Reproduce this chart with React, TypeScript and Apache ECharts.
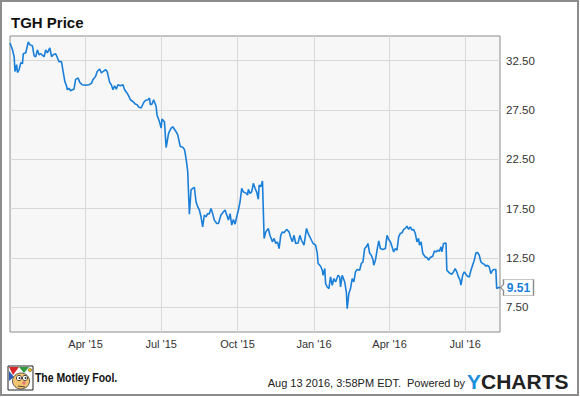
import React, { useEffect, useRef } from 'react';
import * as echarts from 'echarts';

const FONT = '"Liberation Sans", Arial, Helvetica, sans-serif';

const chartTitle = 'TGH Price';
const xTickDates = ['2015-04-01', '2015-07-01', '2015-10-01', '2016-01-01', '2016-04-01', '2016-07-01'];
const yTickValues = [7.5, 12.5, 17.5, 22.5, 27.5, 32.5];
const monthNames = ['Jan', 'Feb', 'Mar', 'Apr', 'May', 'Jun', 'Jul', 'Aug', 'Sep', 'Oct', 'Nov', 'Dec'];

const priceDates = [
  '2014-12-31', '2015-01-03', '2015-01-05', '2015-01-06', '2015-01-08', '2015-01-09', '2015-01-11', '2015-01-13', '2015-01-15', '2015-01-16',
  '2015-01-19', '2015-01-22', '2015-01-24', '2015-01-27', '2015-01-29', '2015-01-31', '2015-02-02', '2015-02-04', '2015-02-06', '2015-02-10',
  '2015-02-12', '2015-02-14', '2015-02-17', '2015-02-19', '2015-02-21', '2015-02-24', '2015-02-26', '2015-02-28', '2015-03-03', '2015-03-05',
  '2015-03-07', '2015-03-09', '2015-03-10', '2015-03-12', '2015-03-14', '2015-03-16', '2015-03-18', '2015-03-20', '2015-03-23', '2015-03-25',
  '2015-03-28', '2015-04-01', '2015-04-05', '2015-04-08', '2015-04-10', '2015-04-13', '2015-04-15', '2015-04-18', '2015-04-20', '2015-04-22',
  '2015-04-25', '2015-04-27', '2015-04-30', '2015-05-02', '2015-05-04', '2015-05-06', '2015-05-08', '2015-05-10', '2015-05-13', '2015-05-16',
  '2015-05-18', '2015-05-21', '2015-05-23', '2015-05-25', '2015-05-28', '2015-05-31', '2015-06-02', '2015-06-04', '2015-06-07', '2015-06-10',
  '2015-06-12', '2015-06-15', '2015-06-17', '2015-06-18', '2015-06-20', '2015-06-22', '2015-06-25', '2015-06-26', '2015-06-29', '2015-07-01',
  '2015-07-02', '2015-07-05', '2015-07-07', '2015-07-10', '2015-07-13', '2015-07-15', '2015-07-19', '2015-07-21', '2015-07-24', '2015-07-27',
  '2015-07-29', '2015-07-31', '2015-08-02', '2015-08-03', '2015-08-04', '2015-08-06', '2015-08-08', '2015-08-10', '2015-08-12', '2015-08-14',
  '2015-08-16', '2015-08-18', '2015-08-20', '2015-08-22', '2015-08-24', '2015-08-26', '2015-08-28', '2015-08-30', '2015-09-01', '2015-09-03',
  '2015-09-06', '2015-09-08', '2015-09-11', '2015-09-14', '2015-09-16', '2015-09-18', '2015-09-20', '2015-09-22', '2015-09-24', '2015-09-26',
  '2015-09-28', '2015-09-30', '2015-10-02', '2015-10-04', '2015-10-06', '2015-10-08', '2015-10-11', '2015-10-13', '2015-10-14', '2015-10-16',
  '2015-10-18', '2015-10-20', '2015-10-22', '2015-10-24', '2015-10-26', '2015-10-27', '2015-10-29', '2015-10-31', '2015-11-02', '2015-11-04',
  '2015-11-07', '2015-11-09', '2015-11-12', '2015-11-14', '2015-11-16', '2015-11-18', '2015-11-20', '2015-11-22', '2015-11-24', '2015-11-26',
  '2015-11-29', '2015-12-02', '2015-12-04', '2015-12-06', '2015-12-08', '2015-12-10', '2015-12-13', '2015-12-15', '2015-12-17', '2015-12-20',
  '2015-12-23', '2015-12-25', '2015-12-29', '2015-12-31', '2016-01-03', '2016-01-05', '2016-01-06', '2016-01-09', '2016-01-11', '2016-01-12',
  '2016-01-14', '2016-01-15', '2016-01-17', '2016-01-19', '2016-01-21', '2016-01-23', '2016-01-25', '2016-01-27', '2016-01-30', '2016-02-01',
  '2016-02-02', '2016-02-04', '2016-02-07', '2016-02-09', '2016-02-10', '2016-02-12', '2016-02-14', '2016-02-16', '2016-02-18', '2016-02-20',
  '2016-02-22', '2016-02-25', '2016-02-27', '2016-02-29', '2016-03-02', '2016-03-04', '2016-03-06', '2016-03-08', '2016-03-10', '2016-03-12',
  '2016-03-13', '2016-03-15', '2016-03-17', '2016-03-19', '2016-03-21', '2016-03-24', '2016-03-27', '2016-03-29', '2016-03-31', '2016-04-02',
  '2016-04-04', '2016-04-06', '2016-04-08', '2016-04-10', '2016-04-12', '2016-04-14', '2016-04-16', '2016-04-18', '2016-04-20', '2016-04-22',
  '2016-04-24', '2016-04-26', '2016-04-28', '2016-04-30', '2016-05-02', '2016-05-04', '2016-05-06', '2016-05-07', '2016-05-09', '2016-05-11',
  '2016-05-14', '2016-05-16', '2016-05-18', '2016-05-20', '2016-05-23', '2016-05-25', '2016-05-27', '2016-05-29', '2016-05-31', '2016-06-02',
  '2016-06-03', '2016-06-05', '2016-06-08', '2016-06-09', '2016-06-12', '2016-06-15', '2016-06-17', '2016-06-19', '2016-06-21', '2016-06-23',
  '2016-06-25', '2016-06-26', '2016-06-28', '2016-06-30', '2016-07-02', '2016-07-04', '2016-07-06', '2016-07-08', '2016-07-10', '2016-07-12',
  '2016-07-14', '2016-07-16', '2016-07-18', '2016-07-20', '2016-07-22', '2016-07-24', '2016-07-26', '2016-07-28', '2016-07-30', '2016-08-01',
  '2016-08-03', '2016-08-05', '2016-08-07', '2016-08-08', '2016-08-10', '2016-08-12',
];

const priceValues = [
  34.3, 33.6, 32.9, 31.4, 32.1, 31.3, 31.6, 32.3, 32.2, 33.2,
  33.3, 34.4, 34.1, 34.0, 33.0, 32.9, 33.6, 33.1, 33.2, 32.9,
  33.6, 33.3, 33.8, 32.9, 33.1, 33.2, 32.8, 32.4, 32.4, 31.4,
  30.4, 29.96, 29.55, 29.7, 29.45, 29.55, 29.6, 30.6, 30.74, 30.3,
  30.06, 30.0, 30.06, 30.2, 30.6, 30.9, 31.4, 31.66, 31.25, 31.4,
  31.6, 31.4, 30.3, 30.06, 29.55, 29.96, 29.6, 30.06, 29.96, 30.06,
  29.55, 29.2, 28.9, 28.54, 28.36, 28.1, 28.03, 27.8, 27.7, 28.26,
  28.47, 28.54, 28.7, 28.03, 28.1, 28.54, 27.85, 27.0, 26.3, 25.66,
  26.58, 26.3, 23.7, 25.15, 25.66, 25.8, 25.3, 24.98, 23.8, 23.73,
  23.5, 22.6, 21.25, 19.05, 16.95, 19.4, 19.56, 19.66, 18.2, 17.7,
  17.36, 16.68, 15.66, 16.85, 16.68, 17.0, 16.95, 17.53, 17.0, 16.34,
  16.0, 16.0, 16.85, 17.18, 17.36, 16.85, 16.34, 17.0, 15.83, 16.41,
  15.93, 16.68, 17.36, 18.2, 19.56, 19.2, 19.1, 18.88, 19.46, 19.05,
  19.2, 20.07, 19.56, 19.2, 18.45, 19.9, 19.73, 20.3, 14.48, 15.15,
  15.5, 14.8, 14.14, 14.48, 13.97, 14.14, 13.46, 14.8, 15.15, 15.05,
  15.4, 15.15, 14.58, 14.14, 14.8, 13.97, 14.03, 14.8, 14.3, 13.8,
  15.5, 14.99, 14.3, 13.97, 13.8, 12.96, 11.94, 11.67, 11.26, 10.75,
  11.43, 9.91, 9.56, 9.4, 10.58, 9.74, 10.42, 10.07, 10.75, 10.58,
  9.56, 10.75, 10.07, 9.05, 7.37, 8.89, 9.4, 10.42, 10.07, 11.09,
  11.33, 11.26, 11.94, 12.1, 13.46, 13.63, 13.97, 13.0, 12.78, 12.35,
  11.77, 12.28, 13.29, 14.24, 13.46, 13.36, 13.46, 14.8, 14.38, 14.14,
  13.63, 13.12, 13.46, 13.29, 14.64, 14.99, 15.05, 15.4, 15.5, 15.73,
  15.4, 15.66, 15.33, 15.4, 14.99, 14.14, 14.48, 13.8, 14.14, 12.96,
  12.61, 12.55, 12.28, 12.55, 12.68, 13.22, 13.12, 13.29, 13.19, 13.63,
  13.12, 13.97, 14.03, 11.26, 10.99, 10.85, 11.09, 11.43, 11.09, 10.58,
  10.24, 9.74, 10.75, 11.09, 10.85, 10.65, 10.58, 11.26, 11.77, 12.28,
  13.02, 13.06, 12.78, 12.1, 11.94, 11.87, 11.67, 11.77, 11.6, 10.92,
  11.26, 11.33, 11.33, 9.4, 9.5, 9.51,
];

const axisStart = '2014-12-31';
const axisEnd = '2016-08-12';

function parseDay(s: string): number {
  const [y, m, d] = s.split('-').map(Number);
  return new Date(y, m - 1, d).getTime();
}

function textStyle(text: string, size: number, align: string, weight: string = 'normal', fill: string = '#222') {
  return {
    text,
    fontSize: size,
    fontWeight: weight,
    fontFamily: FONT,
    fill,
    align,
    verticalAlign: 'middle',
    textAlign: align,
    textVerticalAlign: 'middle',
  };
}

export default function App() {
  const ref = useRef<HTMLDivElement>(null);

  useEffect(() => {
    if (!ref.current) return;
    const chart = echarts.init(ref.current, null, { renderer: 'svg' });
    const seriesData = priceDates.map((d, i) => [parseDay(d), priceValues[i]]);
    const last = seriesData[seriesData.length - 1];
    const xTicks = xTickDates.map(parseDay);

    const option: any = {
      animation: false,
      backgroundColor: '#ffffff',
      grid: {
        left: 10,
        top: 36,
        width: 490,
        height: 296,
        show: true,
        backgroundColor: '#f7f7f7',
        borderColor: '#8c8c8c',
        borderWidth: 1,
      },
      xAxis: {
        type: 'value',
        min: parseDay(axisStart),
        max: parseDay(axisEnd),
        axisLine: { show: false },
        axisTick: { show: false, customValues: xTicks },
        axisLabel: {
          customValues: xTicks,
          formatter: (v: number) => {
            const dt = new Date(v);
            return monthNames[dt.getMonth()] + " '" + String(dt.getFullYear()).slice(2);
          },
          margin: 6,
          color: '#333',
          fontSize: 11,
          fontFamily: FONT,
        },
        splitLine: { show: true, customValues: xTicks, lineStyle: { color: '#d8d8d8', width: 1 } },
      },
      yAxis: {
        type: 'value',
        position: 'right',
        min: 5,
        max: 35,
        axisLine: { show: false },
        axisTick: { show: false, customValues: yTickValues },
        axisLabel: {
          customValues: yTickValues,
          formatter: (v: number) => v.toFixed(2),
          margin: 6,
          color: '#333',
          fontSize: 11.5,
          fontFamily: FONT,
        },
        splitLine: { show: true, customValues: yTickValues, lineStyle: { color: '#d8d8d8', width: 1 } },
      },
      series: [
        {
          type: 'line',
          data: seriesData,
          showSymbol: false,
          symbol: 'none',
          lineStyle: { color: '#1a7fd8', width: 1.6 },
          itemStyle: { color: '#1a7fd8' },
          clip: false,
          markPoint: {
            silent: true,
            symbol: 'path://M0,8L3,5L3,0L33,0L33,16L3,16L3,11Z',
            symbolSize: [33, 16],
            symbolOffset: [17, 0],
            symbolKeepAspect: false,
            itemStyle: { color: '#ffffff', borderColor: '#8c8c8c', borderWidth: 1 },
            label: {
              show: true,
              position: 'inside',
              offset: [1.5, 0],
              formatter: () => (last[1] as number).toFixed(2),
              color: '#1a7fd8',
              fontWeight: 'bold',
              fontSize: 12,
              fontFamily: FONT,
            },
            data: [{ coord: last }],
          },
        },
      ],
      graphic: [
        {
          type: 'rect',
          shape: { x: 1, y: 1, width: 577, height: 394 },
          style: { fill: 'none', stroke: '#8c8c8c', lineWidth: 2 },
          silent: true,
        },
        { type: 'text', x: 11, y: 22, style: textStyle(chartTitle, 15, 'left', 'bold', '#111') },
        {
          type: 'group',
          children: [
            { type: 'rect', shape: { x: 8, y: 366, width: 25, height: 24 }, style: { fill: '#fff', stroke: '#222', lineWidth: 1 } },
            { type: 'polygon', shape: { points: [[9, 367], [19, 367], [13, 375]] }, style: { fill: '#d9262c' } },
            { type: 'polygon', shape: { points: [[19, 367], [29, 367], [24, 373]] }, style: { fill: '#2e9a3c' } },
            { type: 'polygon', shape: { points: [[9, 371], [14, 377], [9, 381]] }, style: { fill: '#2b5cb8' } },
            { type: 'circle', shape: { cx: 30, cy: 370, r: 1.8 }, style: { fill: '#f2c300', stroke: '#333', lineWidth: 0.5 } },
            { type: 'ellipse', shape: { cx: 21, cy: 381, rx: 8.5, ry: 8 }, style: { fill: '#f4c56e', stroke: '#333', lineWidth: 0.8 } },
            { type: 'circle', shape: { cx: 19, cy: 378, r: 2.6 }, style: { fill: '#fff', stroke: '#222', lineWidth: 0.8 } },
            { type: 'circle', shape: { cx: 25, cy: 378, r: 2.6 }, style: { fill: '#fff', stroke: '#222', lineWidth: 0.8 } },
            { type: 'circle', shape: { cx: 19.5, cy: 378, r: 0.9 }, style: { fill: '#222' } },
            { type: 'circle', shape: { cx: 25.5, cy: 378, r: 0.9 }, style: { fill: '#222' } },
            { type: 'circle', shape: { cx: 24, cy: 383, r: 1.8 }, style: { fill: '#e0787a' } },
            { type: 'line', shape: { x1: 18, y1: 386, x2: 25, y2: 387 }, style: { stroke: '#222', lineWidth: 0.8 } },
          ],
        },
        { type: 'text', x: 35, y: 378, scaleX: 0.87, style: textStyle('The Motley Fool.', 12, 'left', 'bold', '#111') },
        { type: 'text', x: 401, y: 383, style: textStyle('Aug 13 2016, 3:58PM EDT.', 11, 'right') },
        { type: 'text', x: 407, y: 383, style: textStyle('Powered by', 11, 'left') },
        {
          type: 'text',
          x: 467,
          y: 381,
          style: {
            text: '{y|Y}{c|CHARTS}',
            align: 'left',
            verticalAlign: 'middle',
            textAlign: 'left',
            textVerticalAlign: 'middle',
            rich: {
              y: { fontSize: 21, fontWeight: 'bold', fontFamily: FONT, fill: '#1e8fd9', color: '#1e8fd9' },
              c: { fontSize: 21, fontWeight: 'bold', fontFamily: FONT, fill: '#222', color: '#222' },
            },
          },
        },
      ],
    };

    chart.setOption(option);
    return () => {
      chart.dispose();
    };
  }, []);

  return (
    <div
      ref={ref}
      style={{ position: 'fixed', left: 0, top: 0, width: 580, height: 397, background: '#fff' }}
    />
  );
}
